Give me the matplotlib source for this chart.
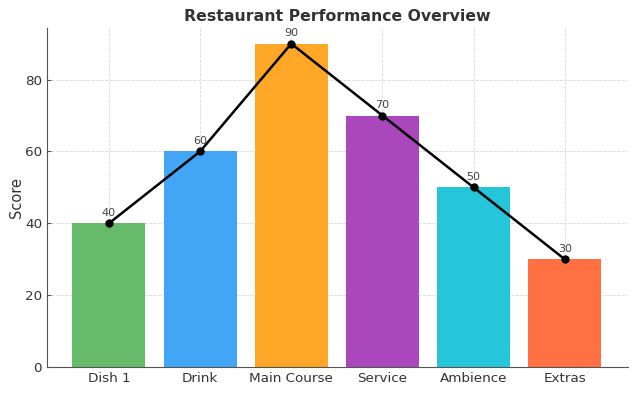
import matplotlib.pyplot as plt

categories = ['Dish 1', 'Drink', 'Main Course', 'Service', 'Ambience', 'Extras']
scores = [40, 60, 90, 70, 50, 30]
colors = ['#66BB6A', '#42A5F5', '#FFA726', '#AB47BC', '#26C6DA', '#FF7043']

fig, ax = plt.subplots(figsize=(6.34, 3.93), dpi=100)
fig.subplots_adjust(left=0.074, right=0.99, top=0.93, bottom=0.066)

x = range(len(categories))
ax.bar(x, scores, width=0.8, color=colors, zorder=2)
ax.plot(x, scores, color='black', marker='o', markersize=5, linewidth=1.8, zorder=3)

for i, v in enumerate(scores):
    ax.annotate(str(v), (i, v), xytext=(0, 4), textcoords='offset points',
                ha='center', va='bottom', fontsize=8, color='#444444')

ax.set_xticks(list(x))
ax.set_xticklabels(categories, fontsize=9.7, color='#333333')
ax.set_xlim(-0.68, 5.69)
ax.set_ylim(0, 94.5)
ax.set_yticks([0, 20, 40, 60, 80])
ax.tick_params(axis='y', labelsize=9.7, labelcolor='#333333')
ax.tick_params(direction='in', color='#555555', length=3)
ax.set_ylabel('Score', fontsize=10.5, color='#333333', labelpad=1)
ax.set_title('Restaurant Performance Overview', fontsize=11.3, fontweight='bold',
             color='#333333', pad=5)

ax.grid(True, linestyle='--', linewidth=0.6, color='#d8d8d8', zorder=0)
ax.set_axisbelow(True)
for s in ['top', 'right']:
    ax.spines[s].set_visible(False)
for s in ['left', 'bottom']:
    ax.spines[s].set_color('#555555')

plt.savefig('out.png', dpi=100)
